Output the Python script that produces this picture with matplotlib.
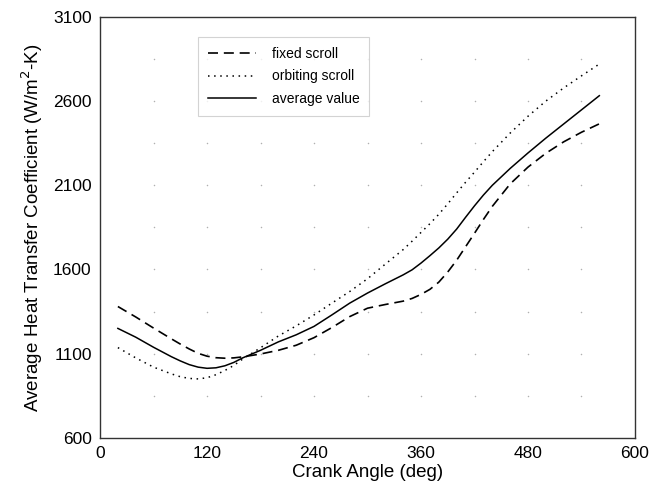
import matplotlib
matplotlib.use("Agg")
import matplotlib.pyplot as plt
import numpy as np

plt.rcParams['font.family'] = ['Liberation Sans', 'DejaVu Sans']

crank_angle = [20, 40, 60, 80, 90, 100, 110, 120, 130, 140, 150, 160, 180, 200, 220, 240,
               260, 280, 300, 320, 340, 350, 360, 370, 380, 390, 400, 410, 420, 430, 440,
               460, 480, 500, 520, 540, 560]
fixed_scroll = [1380, 1318, 1252, 1188, 1157, 1128, 1102, 1085, 1076, 1073, 1075, 1081,
                1098, 1120, 1150, 1195, 1255, 1320, 1370, 1392, 1412, 1428, 1452, 1482,
                1525, 1585, 1655, 1735, 1815, 1897, 1975, 2108, 2208, 2290, 2358, 2415,
                2465]
orbiting_scroll = [1136, 1075, 1020, 980, 963, 953, 950, 957, 975, 1000, 1030, 1068,
                   1135, 1205, 1265, 1330, 1400, 1469, 1545, 1632, 1718, 1768, 1820, 1872,
                   1928, 1990, 2055, 2118, 2178, 2240, 2300, 2410, 2510, 2600, 2678, 2750,
                   2820]
average_value = [1250, 1198, 1138, 1082, 1057, 1035, 1020, 1013, 1016, 1028, 1048, 1075,
                 1120, 1170, 1212, 1262, 1330, 1400, 1460, 1515, 1568, 1598, 1638, 1682,
                 1728, 1780, 1840, 1910, 1978, 2042, 2100, 2200, 2292, 2380, 2464, 2548,
                 2632]

x_ticks = [0, 120, 240, 360, 480, 600]
y_ticks = [600, 1100, 1600, 2100, 2600, 3100]

fig = plt.figure(figsize=(6.67, 4.97), dpi=100)
ax = fig.add_axes([0.150, 0.119, 0.802, 0.847])

# faint grid dots at minor intersections
gx = np.arange(60, 600, 60)
gy = np.arange(850, 3100, 250)
GX, GY = np.meshgrid(gx, gy)
ax.scatter(GX.ravel(), GY.ravel(), s=1.2, color='#b0b0b0', linewidths=0, zorder=1)

ax.plot(crank_angle, fixed_scroll, color='black', lw=1.2, linestyle=(0, (6, 3.5)),
        label='fixed scroll', zorder=3)
ax.plot(crank_angle, orbiting_scroll, color='black', lw=1.1, linestyle=(0, (1, 3)),
        label='orbiting scroll', zorder=3)
ax.plot(crank_angle, average_value, color='black', lw=1.1, linestyle='-',
        label='average value', zorder=3)

ax.set_xlim(0, 600)
ax.set_ylim(600, 3100)
ax.set_xticks(x_ticks)
ax.set_yticks(y_ticks)
ax.tick_params(axis='both', length=0, labelsize=12.5, pad=6)
for s in ax.spines.values():
    s.set_linewidth(1.0)
    s.set_color('#333333')

ax.set_xlabel('Crank Angle (deg)', fontsize=13.5, labelpad=2)
ax.set_ylabel('Average Heat Transfer Coefficient (W/m$^2$-K)', fontsize=13.5, labelpad=6)

leg = ax.legend(loc='upper left', bbox_to_anchor=(0.183, 0.952), fontsize=10,
                frameon=True, fancybox=False, edgecolor='#c8c8c8', handlelength=3.5,
                handletextpad=1.1, labelspacing=0.62, borderpad=0.7, borderaxespad=0)
leg.get_frame().set_linewidth(0.8)

fig.savefig('out.png', dpi=100)
